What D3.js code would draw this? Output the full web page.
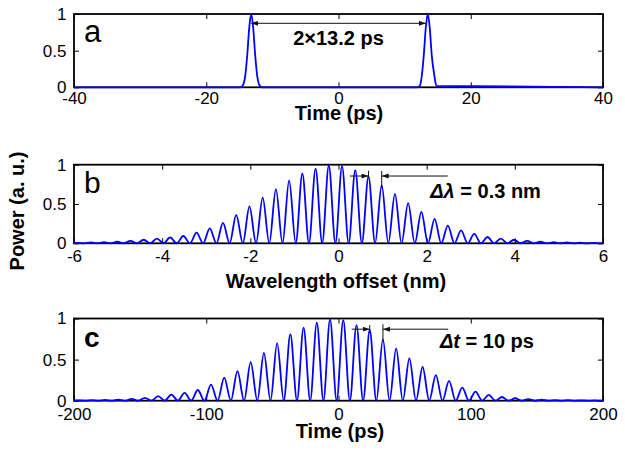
<!DOCTYPE html>
<html>
<head>
<meta charset="utf-8">
<script src="https://cdn.jsdelivr.net/npm/d3@7"></script>
<style>
  body { margin: 0; background: #fff; }
  svg { display: block; font-family: "Liberation Sans", Arial, sans-serif; }
</style>
</head>
<body>
<div id="vis"></div>
<script>
const width = 625;
const height = 452;
const plotLeft = 74;
const plotRight = 603;

// panel a: pulse pair in time
const pulseTime = [-40, -14.8, -14.5, -14.1, -13.8, -13.5, -13.2, -12.9, -12.6, -12.3, -11.9, -11.6,
  11.6, 11.9, 12.3, 12.6, 12.9, 13.2, 13.5, 13.8, 14.1, 14.5, 14.8, 40];
const pulsePower = [0, 0, 0.02, 0.16, 0.44, 0.81, 1, 0.81, 0.44, 0.16, 0.02, 0,
  0, 0, 0.02, 0.16, 0.44, 0.81, 1, 0.81, 0.44, 0.16, 0.02, 0];

// panel b: spectral fringes (peaks and troughs)
const specPeakNm = [-5.92, -5.62, -5.32, -5.02, -4.72, -4.42, -4.12, -3.82, -3.52, -3.22,
  -2.92, -2.62, -2.32, -2.02, -1.72, -1.42, -1.12, -0.82, -0.52, -0.22,
  0.08, 0.38, 0.68, 0.98, 1.28, 1.58, 1.88, 2.18, 2.48, 2.78,
  3.08, 3.38, 3.68, 3.98, 4.28, 4.58, 4.88, 5.18, 5.48, 5.78];
const specPeakPow = [0.006, 0.01, 0.014, 0.02, 0.03, 0.045, 0.06, 0.075, 0.093, 0.135,
  0.19, 0.26, 0.36, 0.47, 0.58, 0.69, 0.80, 0.89, 0.95, 0.99,
  0.98, 0.93, 0.85, 0.74, 0.63, 0.51, 0.40, 0.31, 0.225, 0.165,
  0.12, 0.08, 0.06, 0.045, 0.03, 0.02, 0.014, 0.01, 0.007, 0.005];
const specTroughNm = [-6, -5.77, -5.47, -5.17, -4.87, -4.57, -4.27, -3.97, -3.67, -3.37, -3.07,
  -2.77, -2.47, -2.17, -1.87, -1.57, -1.27, -0.97, -0.67, -0.37, -0.07,
  0.23, 0.53, 0.83, 1.13, 1.43, 1.73, 2.03, 2.33, 2.63, 2.93,
  3.23, 3.53, 3.83, 4.13, 4.43, 4.73, 5.03, 5.33, 5.63, 5.93, 6];
const specTroughPow = [0.003, 0, 0, 0, 0, 0, 0, 0, 0, 0, 0,
  0, 0, 0, 0, 0, 0, 0, 0, 0, 0,
  0, 0, 0, 0, 0, 0, 0, 0, 0, 0,
  0, 0, 0, 0, 0, 0, 0, 0, 0, 0, 0.003];

// panel c: temporal fringes
const corrPeakPs = [-196.4, -186.4, -176.4, -166.4, -156.4, -146.4, -136.4, -126.4, -116.4, -106.4,
  -96.4, -86.4, -76.4, -66.4, -56.4, -46.4, -36.4, -26.4, -16.4, -6.4,
  3.6, 13.6, 23.6, 33.6, 43.6, 53.6, 63.6, 73.6, 83.6, 93.6,
  103.6, 113.6, 123.6, 133.6, 143.6, 153.6, 163.6, 173.6, 183.6, 193.6];
const corrPeakPow = [0.005, 0.007, 0.01, 0.014, 0.022, 0.035, 0.055, 0.075, 0.095, 0.13,
  0.195, 0.28, 0.36, 0.47, 0.58, 0.70, 0.81, 0.89, 0.95, 0.99,
  0.98, 0.92, 0.86, 0.745, 0.635, 0.515, 0.41, 0.31, 0.24, 0.16,
  0.11, 0.07, 0.045, 0.03, 0.02, 0.012, 0.008, 0.006, 0.005, 0.004];
const corrTroughPs = [-200, -191.4, -181.4, -171.4, -161.4, -151.4, -141.4, -131.4, -121.4, -111.4, -101.4,
  -91.4, -81.4, -71.4, -61.4, -51.4, -41.4, -31.4, -21.4, -11.4, -1.4,
  8.6, 18.6, 28.6, 38.6, 48.6, 58.6, 68.6, 78.6, 88.6, 98.6,
  108.6, 118.6, 128.6, 138.6, 148.6, 158.6, 168.6, 178.6, 188.6, 198.6, 200];
const corrTroughPow = [0.003, 0, 0, 0, 0, 0, 0, 0, 0, 0, 0,
  0, 0, 0, 0, 0, 0, 0, 0, 0, 0,
  0, 0, 0, 0, 0, 0, 0, 0, 0, 0,
  0, 0, 0, 0, 0, 0, 0, 0, 0, 0, 0.003];

const powerTicks = [0, 0.5, 1];
const timeTicksA = [-40, -20, 0, 20, 40];
const nmTicks = [-6, -4, -2, 0, 2, 4, 6];
const timeTicksC = [-200, -100, 0, 100, 200];

function zipSorted(xs1, ys1, xs2, ys2) {
  const pts = xs1.map((x, i) => [x, ys1[i]]);
  xs2.forEach((x, i) => pts.push([x, ys2[i]]));
  return pts.sort((p, q) => p[0] - q[0]);
}

const panels = [
  {
    top: 14, bottom: 87.3, domain: [-40, 40], ticks: timeTicksA,
    points: pulseTime.map((t, i) => [t, pulsePower[i]]),
    letter: "a", letterWeight: "normal", letterSize: 31,
    title: "Time (ps)", labelBase: 104.5, titleBase: 120, titleX: 339,
  },
  {
    top: 164.7, bottom: 243.3, domain: [-6, 6], ticks: nmTicks,
    points: zipSorted(specPeakNm, specPeakPow, specTroughNm, specTroughPow),
    letter: "b", letterWeight: "normal", letterSize: 30,
    title: "Wavelength offset (nm)", labelBase: 261.7, titleBase: 287.5, titleX: 336,
  },
  {
    top: 318.5, bottom: 400.7, domain: [-200, 200], ticks: timeTicksC,
    points: zipSorted(corrPeakPs, corrPeakPow, corrTroughPs, corrTroughPow),
    letter: "c", letterWeight: "bold", letterSize: 28,
    title: "Time (ps)", labelBase: 420, titleBase: 438, titleX: 340,
  },
];

const svg = d3.select("#vis").append("svg")
  .attr("width", width)
  .attr("height", height);

const defs = svg.append("defs");
defs.append("marker")
  .attr("id", "head")
  .attr("markerUnits", "userSpaceOnUse")
  .attr("markerWidth", 8)
  .attr("markerHeight", 6)
  .attr("refX", 7)
  .attr("refY", 2.5)
  .attr("orient", "auto-start-reverse")
  .append("path")
  .attr("d", "M0,0L7,2.5L0,5Z")
  .attr("fill", "#111");

function drawPanel(p) {
  const x = d3.scaleLinear().domain(p.domain).range([plotLeft, plotRight]);
  const y = d3.scaleLinear().domain([0, 1]).range([p.bottom, p.top]);
  const g = svg.append("g");

  const styleAxis = (sel) => {
    sel.select(".domain").remove();
    sel.selectAll(".tick line").attr("stroke", "#000").attr("stroke-width", 1);
    sel.selectAll(".tick text").attr("fill", "#000").style("font-size", "17px")
      .style("font-family", '"Liberation Sans", Arial, sans-serif');
  };

  g.append("g")
    .attr("transform", `translate(0,${p.bottom})`)
    .call(d3.axisBottom(x).tickValues(p.ticks).tickSize(-5).tickPadding(p.labelBase - p.bottom - 12.2).tickFormat((d) => String(d)))
    .call(styleAxis);
  g.append("g")
    .attr("transform", `translate(0,${p.top})`)
    .call(d3.axisTop(x).tickValues(p.ticks).tickSize(-5).tickFormat(""))
    .call(styleAxis);
  g.append("g")
    .attr("transform", `translate(${plotLeft},0)`)
    .call(d3.axisLeft(y).tickValues(powerTicks).tickSize(-5).tickPadding(7.5).tickFormat((d) => String(d)))
    .call(styleAxis);
  g.append("g")
    .attr("transform", `translate(${plotRight},0)`)
    .call(d3.axisRight(y).tickValues(powerTicks).tickSize(-5).tickFormat(""))
    .call(styleAxis);

  g.append("rect")
    .attr("x", plotLeft)
    .attr("y", p.top)
    .attr("width", plotRight - plotLeft)
    .attr("height", p.bottom - p.top)
    .attr("fill", "none")
    .attr("stroke", "#000")
    .attr("stroke-width", 1.8);

  const line = d3.line()
    .x((d) => x(d[0]))
    .y((d) => y(d[1]))
    .curve(d3.curveMonotoneX);

  g.append("path")
    .datum(p.points)
    .attr("d", line)
    .attr("fill", "none")
    .attr("stroke", "#0000ff")
    .attr("stroke-width", 1.8);

  g.append("text")
    .attr("x", plotLeft + 10)
    .attr("y", p.top + 28)
    .style("font-size", p.letterSize + "px")
    .style("font-weight", p.letterWeight)
    .text(p.letter);

  g.append("text")
    .attr("x", p.titleX)
    .attr("y", p.titleBase)
    .attr("text-anchor", "middle")
    .style("font-size", "20px")
    .style("font-weight", "bold")
    .text(p.title);

  return { g, x, y };
}

const [pa, pb, pc] = panels.map(drawPanel);

function arrow(ctx, x1, x2, v, both) {
  const l = ctx.g.append("line")
    .attr("x1", ctx.x(x1)).attr("x2", ctx.x(x2))
    .attr("y1", ctx.y(v)).attr("y2", ctx.y(v))
    .attr("stroke", "#111")
    .attr("stroke-width", 1)
    .attr("marker-end", "url(#head)");
  if (both) l.attr("marker-start", "url(#head)");
}

function bar(ctx, xv, v1, v2) {
  ctx.g.append("line")
    .attr("x1", ctx.x(xv)).attr("x2", ctx.x(xv))
    .attr("y1", ctx.y(v1)).attr("y2", ctx.y(v2))
    .attr("stroke", "#111")
    .attr("stroke-width", 1);
}

// a: pulse separation
arrow(pa, -13.2, 13.2, 0.873, true);
pa.g.append("text")
  .attr("x", pa.x(0)).attr("y", pa.y(0.573))
  .attr("text-anchor", "middle")
  .style("font-size", "20px").style("font-weight", "bold")
  .text("2×13.2 ps");

// b: fringe spacing
arrow(pb, 0.26, 0.68, 0.856, false);
bar(pb, 0.68, 0.83, 0.924);
bar(pb, 0.98, 0.70, 0.92);
arrow(pb, 2.48, 0.98, 0.856, false);
const tb = pb.g.append("text")
  .attr("x", pb.x(2.08)).attr("y", pb.y(0.573))
  .style("font-size", "20px").style("font-weight", "bold");
tb.append("tspan").style("font-style", "italic").text("Δλ");
tb.append("tspan").text(" = 0.3 nm");

// c: delay spacing
arrow(pc, 10, 23.6, 0.87, false);
bar(pc, 23.6, 0.82, 0.92);
bar(pc, 33.6, 0.716, 0.93);
arrow(pc, 83, 33.6, 0.87, false);
const tc = pc.g.append("text")
  .attr("x", pc.x(76.7)).attr("y", pc.y(0.636))
  .style("font-size", "20px").style("font-weight", "bold");
tc.append("tspan").style("font-style", "italic").text("Δt");
tc.append("tspan").text(" = 10 ps");

svg.append("text")
  .attr("transform", "translate(23.5,211) rotate(-90)")
  .attr("text-anchor", "middle")
  .style("font-size", "20px")
  .style("font-weight", "bold")
  .text("Power (a. u.)");
</script>
</body>
</html>
